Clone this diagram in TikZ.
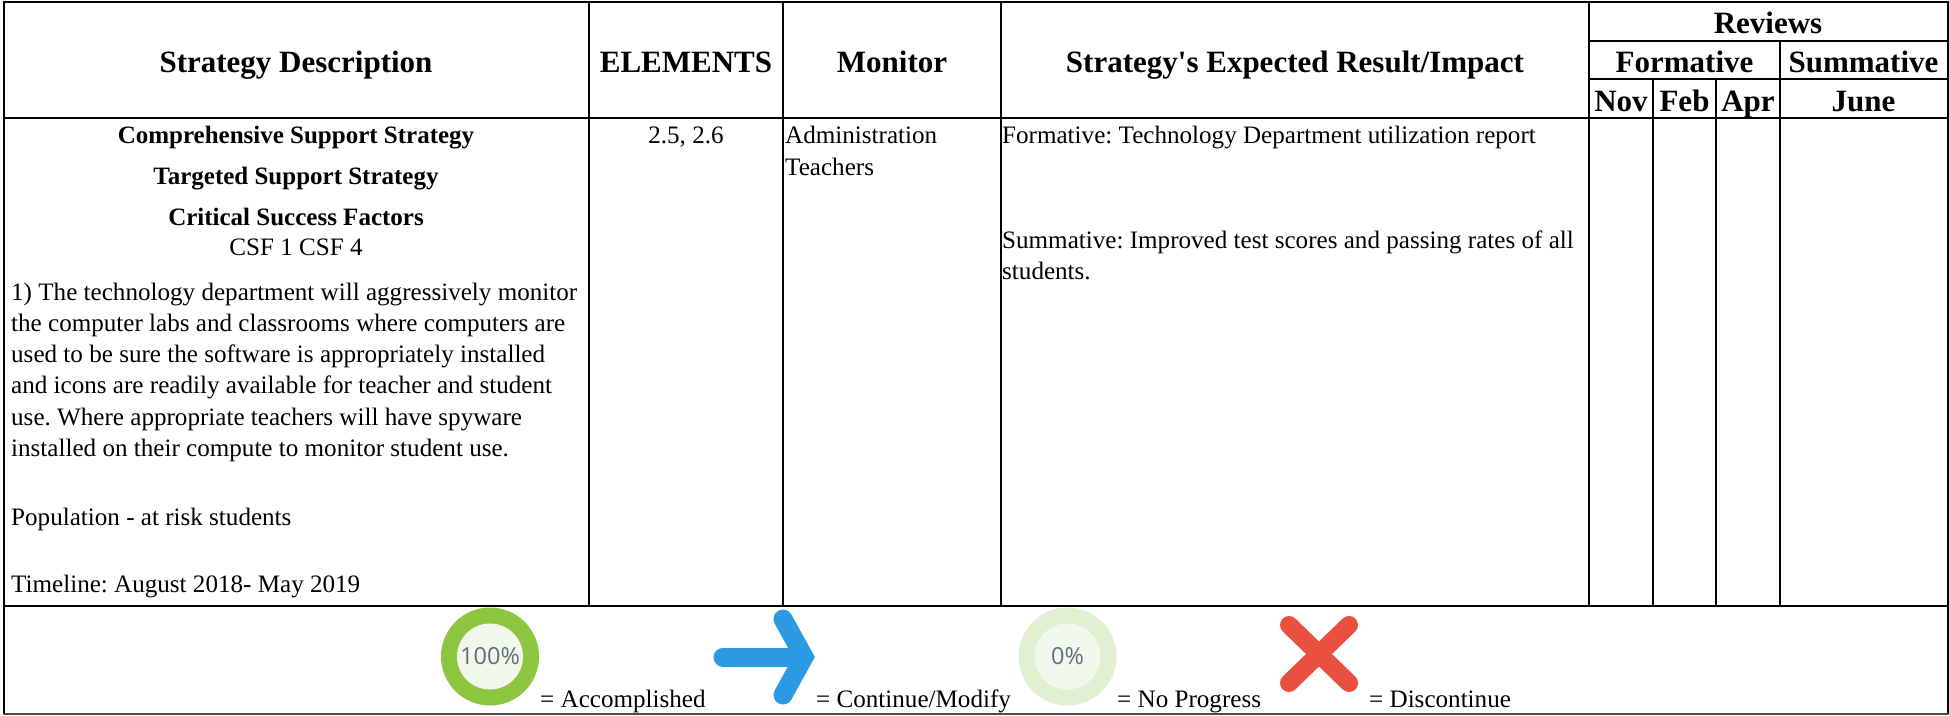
\documentclass[tikz,border=0pt]{standalone}
\usepackage{fontspec}
\setmainfont{Liberation Serif}
\newfontfamily\pctfont{Open Sans}
\definecolor{pctgray}{HTML}{5F6E7A}
\definecolor{ringgreen}{HTML}{8CC63E}
\definecolor{innergreen}{HTML}{F1F7EA}
\definecolor{ringpale}{HTML}{E1EFD3}
\definecolor{innerpale}{HTML}{F3F8EE}
\definecolor{arrowblue}{HTML}{2B9AE3}
\definecolor{crossred}{HTML}{E95040}
\tikzset{
  x=1pt,y=-1pt,
  rule/.style={line width=2pt,draw=black,line cap=rect},
  outer/.style={line width=1.6pt,draw=black!70,line cap=rect},
  head/.style={font=\fontsize{31}{31}\selectfont\bfseries,anchor=base,inner sep=0pt},
  boldc/.style={font=\fontsize{25}{25}\selectfont\bfseries,anchor=base,inner sep=0pt},
  bodyc/.style={font=\fontsize{25.1}{25.1}\selectfont,anchor=base,inner sep=0pt},
  bodyl/.style={font=\fontsize{25.1}{25.1}\selectfont,anchor=base west,inner sep=0pt},
  pct/.style={font=\fontsize{23.5}{23.5}\selectfont\pctfont,text=pctgray,inner sep=0pt},
}
\frenchspacing
\begin{document}
\begin{tikzpicture}
\useasboundingbox (0,0) rectangle (1949,715);
\fill[white] (0,0) rectangle (1949,715);
% table rules
\draw[rule] (4,2) -- (1948,2);
\draw[rule] (4,118) -- (1948,118);
\draw[rule] (4,605.5) -- (1948,605.5);
\draw[rule] (4,2) -- (4,714);
\draw[rule] (1948,2) -- (1948,714);
\draw[outer] (4,714) -- (1948,714);
\draw[rule] (589,2) -- (589,606);
\draw[rule] (783,2) -- (783,606);
\draw[rule] (1001,2) -- (1001,606);
\draw[rule] (1589,2) -- (1589,606);
\draw[rule] (1589,41) -- (1948,41);
\draw[rule] (1589,79) -- (1948,79);
\draw[rule] (1780,41) -- (1780,606);
\draw[rule] (1653,79) -- (1653,606);
\draw[rule] (1716,79) -- (1716,606);
% header
\node[head] (h1) at (296,72) {Strategy Description};
\node[head] (h2) at (686,72) {ELEMENTS};
\node[head] (h3) at (892,72) {Monitor};
\node[head] (h4) at (1295,72) {Strategy\textquotesingle s Expected Result/Impact};
\node[head] (h5) at (1768,33) {Reviews};
\node[head] (h6) at (1684.5,72) {Formative};
\node[head] (h7) at (1863.5,72) {Summative};
\node[head] (h8) at (1621,111) {Nov};
\node[head] (h9) at (1684.5,111) {Feb};
\node[head] (h10) at (1748,111) {Apr};
\node[head] (h11) at (1863.5,111) {June};
% strategy cell
\node[boldc] (s1) at (296,143) {Comprehensive Support Strategy};
\node[boldc] (s2) at (296,184) {Targeted Support Strategy};
\node[boldc] (s3) at (296,225) {Critical Success Factors};
\node[bodyc] (s4) at (296,255) {CSF 1 CSF 4};
\node[bodyl] (b1) at (11,300) {1) The technology department will aggressively monitor};
\node[bodyl] (b2) at (11,331) {the computer labs and classrooms where computers are};
\node[bodyl] (b3) at (11,362) {used to be sure the software is appropriately installed};
\node[bodyl] (b4) at (11,393) {and icons are readily available for teacher and student};
\node[bodyl] (b5) at (11,425) {use. Where appropriate teachers will have spyware};
\node[bodyl] (b6) at (11,456) {installed on their compute to monitor student use.};
\node[bodyl] (b7) at (11,525) {Population - at risk students};
\node[bodyl] (b8) at (11,592) {Timeline: August 2018- May 2019};
% other cells
\node[bodyc] (e1) at (686,143) {2.5, 2.6};
\node[bodyl] (m1) at (785,143) {Administration};
\node[bodyl] (m2) at (785,175) {Teachers};
\node[bodyl] (r1) at (1002,143) {Formative: Technology Department utilization report};
\node[bodyl] (r2) at (1002,248) {Summative: Improved test scores and passing rates of all};
\node[bodyl] (r3) at (1002,279) {students.};
% legend
\node[circle,fill=ringgreen,minimum size=98pt,inner sep=0pt] (i1) at (490,656.5) {};
\node[circle,fill=innergreen,minimum size=66pt,inner sep=0pt] (i1b) at (490,656.5) {};
\node[pct] (p1) at (490,656) {100\%};
\node[bodyl] (l1) at (540,707) {= Accomplished};
\draw[arrowblue,line width=19pt,line cap=round] (723,657) -- (800,657);
\draw[arrowblue,line width=19pt,line cap=round,line join=miter] (783,619) -- (804,657) -- (783,695);
\node[bodyl] (l2) at (816,707) {= Continue/Modify};
\node[circle,fill=ringpale,minimum size=98pt,inner sep=0pt] (i3) at (1067.5,656.5) {};
\node[circle,fill=innerpale,minimum size=66pt,inner sep=0pt] (i3b) at (1067.5,656.5) {};
\node[pct] (p3) at (1067.5,656) {0\%};
\node[bodyl] (l3) at (1117,707) {= No Progress};
\draw[crossred,line width=18pt,line cap=round] (1289,625) -- (1349,683);
\draw[crossred,line width=18pt,line cap=round] (1349,625) -- (1289,683);
\node[bodyl] (l4) at (1369,707) {= Discontinue};
\end{tikzpicture}
\end{document}
